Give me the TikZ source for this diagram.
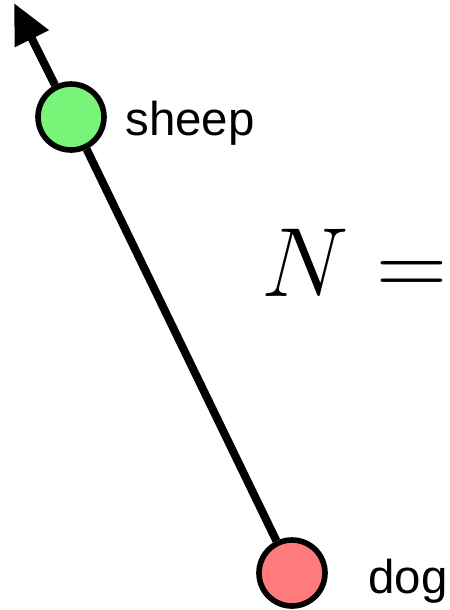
\RequirePackage{fix-cm}
\documentclass[tikz,border=0pt]{standalone}
\usepackage{fontspec}
\setmainfont{Liberation Sans}
\usepackage{tikz}
\usetikzlibrary{arrows.meta, positioning}
\definecolor{sheepgreen}{RGB}{120,245,120}
\definecolor{dogred}{RGB}{255,122,122}

\begin{document}
\begin{tikzpicture}[
  x=0.02cm, y=-0.02cm,
  animal/.style = {circle, draw=black, line width=3.2pt,
                   minimum size=1.32cm, inner sep=0},
  axisline/.style = {line width=4.6pt},
  lbl/.style  = {font=\fontsize{27}{32}\selectfont, anchor=base west, inner sep=0},
]
\clip (0,0) rectangle (450,610);
% ── animals ──
\node[animal, fill=sheepgreen] (sheep) at (71,117) {};
\node[animal, fill=dogred]     (dog)   at (292,573) {};
\coordinate (tip) at (14,3);
% ── line ──
\draw[axisline] (dog) -- (sheep);
\draw[axisline, -{Triangle[length=0.8cm, width=0.72cm]}] (sheep) -- (tip);
% ── labels ──
\node[lbl] at (125,135) {sheep};
\node[lbl] at (368,593) {dog};
\node[anchor=base west, inner sep=0, font=\fontsize{56}{64}\selectfont]
  at (261,296) {$N =$};
\end{tikzpicture}
\end{document}
